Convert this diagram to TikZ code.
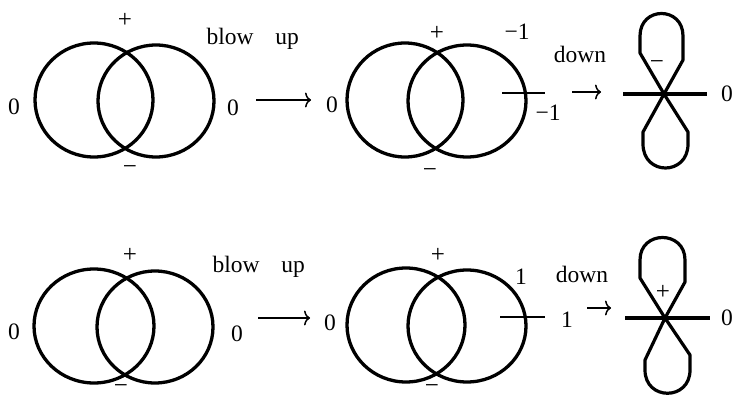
\documentclass[tikz,border=0pt]{standalone}
\usepackage{fontspec}
\setmainfont{Liberation Serif}
\usetikzlibrary{arrows.meta}
\begin{document}
\begin{tikzpicture}[x=1pt,y=-1pt,
  curve/.style={line width=3.3pt},
  tickline/.style={line width=2.2pt},
  barline/.style={line width=3.2pt},
  lbl/.style={font=\fontsize{23.5}{26}\selectfont, inner sep=0pt},
  sgn/.style={font=\fontsize{25}{28}\selectfont, inner sep=0pt},
  word/.style={font=\fontsize{23.5}{26}\selectfont, inner sep=0pt, anchor=base},
  maparrow/.style={line width=1.5pt, -{To[length=6pt,width=15pt]}},
  loopline/.style={line width=3.2pt, line join=round}]
\useasboundingbox (0,0) rectangle (735,401);

% ---------- top row ----------
\draw[curve] (94,100) ellipse [x radius=59, y radius=57];
\draw[curve] (156,101) ellipse [x radius=58, y radius=56];
\node[sgn] (tp1) at (125,20) {+};
\node[sgn] (tm1) at (130,170) {−};
\node[lbl] (tz1) at (14,107) {0};
\node[lbl] (tz2) at (233,108) {0};
\node[word] (tblow) at (230,45) {blow};
\node[word] (tup) at (287,45) {up};
\coordinate (ta1s) at (256,100);
\coordinate (ta1e) at (311,100);
\draw[maparrow] (ta1s) -- (ta1e);

\draw[curve] (405,100) ellipse [x radius=58, y radius=57];
\draw[curve] (467,101) ellipse [x radius=59, y radius=56];
\node[lbl] (tz3) at (332,105) {0};
\node[sgn] (tp2) at (437,33) {+};
\node[sgn] (tm2) at (430,173) {−};
\node[lbl] (tn1) at (517,32) {−1};
\node[lbl] (tn2) at (548,113) {−1};
\coordinate (ttks) at (502,93);
\coordinate (ttke) at (545,93);
\draw[tickline] (ttks) -- (ttke);
\node[word] (tdown) at (580,63) {down};
\coordinate (ta2s) at (572,92);
\coordinate (ta2e) at (601,92);
\draw[maparrow] (ta2s) -- (ta2e);

\coordinate (tbs) at (623,94);
\coordinate (tbe) at (707,94);
\draw[barline] (tbs) -- (tbe);
\begin{scope}[shift={(664,94)}]
  \draw[loopline] (0,0) -- (-24,-41) -- (-24,-58) .. controls (-24,-88) and (19,-88) .. (19,-58) -- (19,-34) -- cycle;
  \draw[loopline] (0,0) -- (-21,38) -- (-21,50) .. controls (-21,82) and (24,82) .. (24,50) -- (24,38) -- cycle;
\end{scope}
\node[sgn] (tm3) at (657,65) {−};
\node[lbl] (tz4) at (727,94) {0};

% ---------- bottom row ----------
\draw[curve] (94,326) ellipse [x radius=60, y radius=57];
\draw[curve] (155,327) ellipse [x radius=58, y radius=56];
\node[sgn] (bp1) at (130,255) {+};
\node[sgn] (bm1) at (121,389) {−};
\node[lbl] (bz1) at (14,332) {0};
\node[lbl] (bz2) at (237,334) {0};
\node[word] (bblow) at (236,272) {blow};
\node[word] (bup) at (293,272) {up};
\coordinate (ba1s) at (258,318);
\coordinate (ba1e) at (310,318);
\draw[maparrow] (ba1s) -- (ba1e);

\draw[curve] (406,325) ellipse [x radius=59, y radius=57];
\draw[curve] (467,326) ellipse [x radius=59, y radius=56];
\node[lbl] (bz3) at (330,323) {0};
\node[sgn] (bp2) at (438,255) {+};
\node[sgn] (bm2) at (432,389) {−};
\node[lbl] (bn1) at (521,277) {1};
\node[lbl] (bn2) at (567,320) {1};
\coordinate (btks) at (500,317);
\coordinate (btke) at (545,317);
\draw[tickline] (btks) -- (btke);
\node[word] (bdown) at (582,282) {down};
\coordinate (ba2s) at (587,308);
\coordinate (ba2e) at (611,308);
\draw[maparrow] (ba2s) -- (ba2e);

\coordinate (bbs) at (625,318);
\coordinate (bbe) at (710,318);
\draw[barline] (bbs) -- (bbe);
\begin{scope}[shift={(665,318)}]
  \draw[loopline] (0,0) -- (-25,-40) -- (-25,-58) .. controls (-25,-88) and (20,-88) .. (20,-58) -- (20,-36) -- cycle;
  \draw[loopline] (0,0) -- (-20,42) -- (-20,52) .. controls (-20,83) and (25,83) .. (25,52) -- (25,37) -- cycle;
\end{scope}
\node[sgn] (bp3) at (663,292) {+};
\node[lbl] (bz4) at (727,318) {0};
\end{tikzpicture}
\end{document}
